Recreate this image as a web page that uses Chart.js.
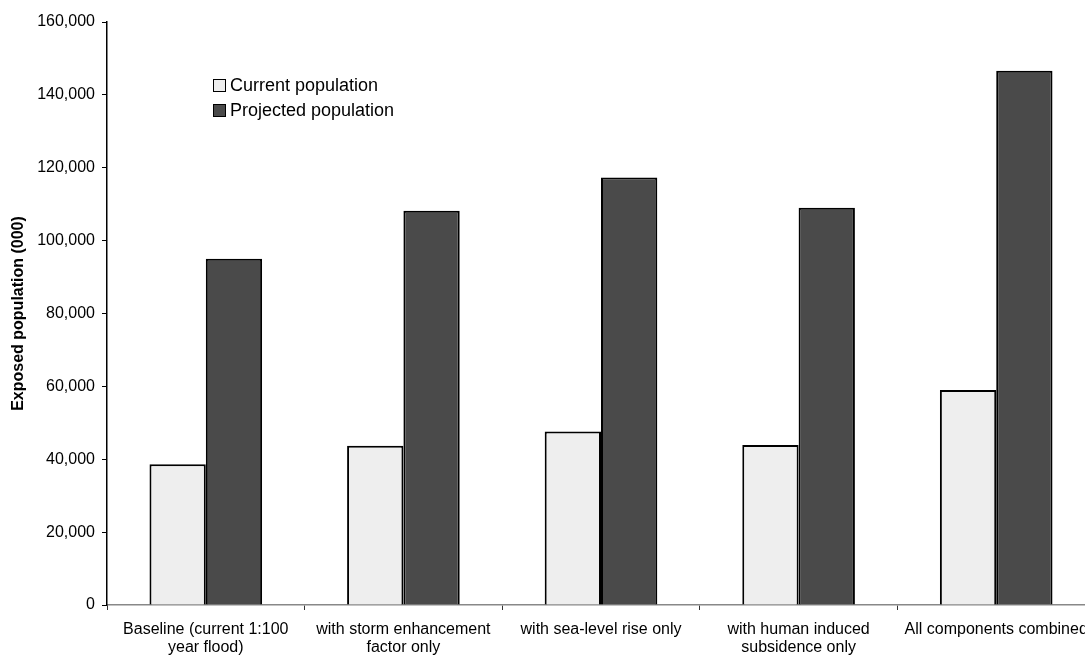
<!DOCTYPE html>
<html>
<head>
<meta charset="utf-8">
<script src="https://cdn.jsdelivr.net/npm/chart.js@4.4.1/dist/chart.umd.min.js"></script>
<style>
  body { margin: 0; overflow: hidden; background: #fff; }
  #wrap { position: relative; width: 1100px; height: 655px; }
  #legend { position: absolute; left: 213px; top: 73px; font: 18px "Liberation Sans", Arial, sans-serif; color: #000; }
  #legend div { height: 25px; line-height: 25px; white-space: nowrap; }
  #legend span.box { display: inline-block; width: 11px; height: 11px; border: 1px solid #000; margin-right: 4px; vertical-align: -1px; }
</style>
</head>
<body>
<div id="wrap">
  <canvas id="chart" width="1100" height="655"></canvas>
  <div id="legend"></div>
</div>
<script>
const categories = [
  ["Baseline (current 1:100", "year flood)"],
  ["with storm enhancement", "factor only"],
  ["with sea-level rise only"],
  ["with human induced", "subsidence only"],
  ["All components combined"],
];
const seriesNames = ["Current population", "Projected population"];
const currentPop = [38600, 43700, 47600, 43900, 59000];
const projectedPop = [95000, 108200, 117300, 109000, 146600];
const seriesColors = ["#eeeeee", "#4a4a4a"];

const font = { family: '"Liberation Sans", Arial, sans-serif', size: 16 };

const ctx = document.getElementById("chart");
const chart = new Chart(ctx, {
  type: "bar",
  data: {
    labels: categories,
    datasets: [
      {
        label: seriesNames[0],
        data: currentPop,
        backgroundColor: seriesColors[0],
        borderColor: "#000",
        borderWidth: 2,
      },
      {
        label: seriesNames[1],
        data: projectedPop,
        backgroundColor: seriesColors[1],
        borderColor: "#000",
        borderWidth: 2,
      },
    ],
  },
  options: {
    responsive: false,
    animation: false,
    layout: { padding: { top: 22, right: 5, left: 0, bottom: 0 } },
    datasets: { bar: { categoryPercentage: 0.57, barPercentage: 1 } },
    plugins: {
      legend: { display: false },
      tooltip: { enabled: false },
    },
    scales: {
      x: {
        border: { color: "#888", width: 1.5 },
        grid: {
          offset: true,
          drawOnChartArea: false,
          drawTicks: true,
          tickLength: 5,
          color: "#333",
        },
        ticks: {
          color: "#000",
          font: { family: font.family, size: 16, lineHeight: 1.125 },
          padding: 11,
          maxRotation: 0,
          autoSkip: false,
        },
        afterFit: (s) => { s.height = 50; },
      },
      y: {
        min: 0,
        max: 160000,
        border: { color: "#000", width: 1.5 },
        grid: {
          drawOnChartArea: false,
          drawTicks: true,
          tickLength: 5,
          color: "#000",
        },
        ticks: {
          stepSize: 20000,
          color: "#000",
          font: font,
          padding: 7,
          callback: (v) => v.toLocaleString("en-US"),
        },
        title: {
          display: true,
          text: "Exposed population (000)",
          color: "#000",
          font: { family: font.family, size: 16, weight: "bold" },
          padding: { top: 9, bottom: 0 },
        },
        afterFit: (s) => { s.width = 107; },
      },
    },
  },
});

// legend drawn as html text, placed inside the plot like the original
const legend = document.getElementById("legend");
chart.data.datasets.forEach((ds) => {
  const row = document.createElement("div");
  const box = document.createElement("span");
  box.className = "box";
  box.style.background = ds.backgroundColor;
  row.appendChild(box);
  row.appendChild(document.createTextNode(ds.label));
  legend.appendChild(row);
});
</script>
</body>
</html>
